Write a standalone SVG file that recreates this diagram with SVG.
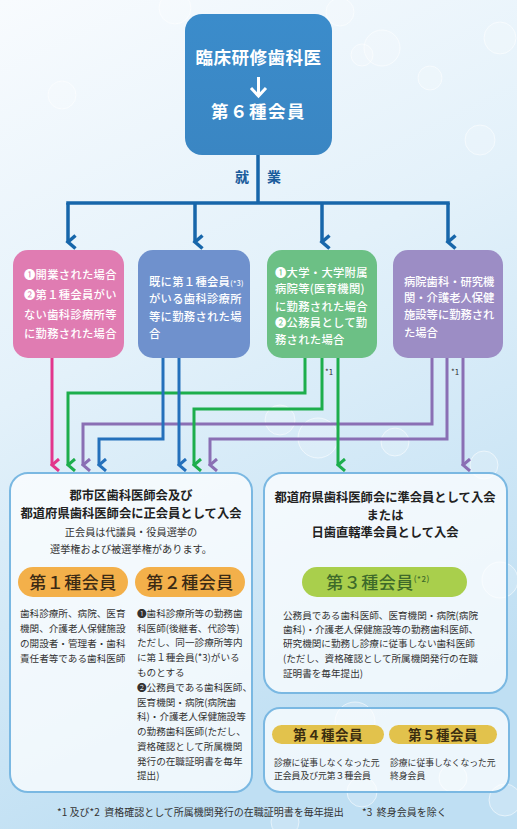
<svg xmlns="http://www.w3.org/2000/svg" width="517" height="829" viewBox="0 0 517 829">
<defs>
<linearGradient id="bg" x1="0" y1="0" x2="0.3" y2="1">
<stop offset="0" stop-color="#f8fbfe"/>
<stop offset="0.45" stop-color="#e3f1fa"/>
<stop offset="1" stop-color="#bfdff3"/>
</linearGradient>
<linearGradient id="topbox" x1="0" y1="0" x2="0" y2="1">
<stop offset="0" stop-color="#3b8ccb"/>
<stop offset="1" stop-color="#3a86c3"/>
</linearGradient>
<marker id="aTop" viewBox="0 0 16 12" refX="8" refY="9" markerWidth="16" markerHeight="12" markerUnits="userSpaceOnUse" orient="auto">
<path d="M1.5,1.5 L8,9 L14.5,1.5" fill="none" stroke="#1766aa" stroke-width="3.5"/>
</marker>
<marker id="aPink" viewBox="0 0 14 10" refX="7" refY="8" markerWidth="14" markerHeight="10" markerUnits="userSpaceOnUse" orient="auto">
<path d="M1,1 L7,8 L13,1" fill="none" stroke="#e2368c" stroke-width="3"/>
</marker>
<marker id="aGreen" viewBox="0 0 14 10" refX="7" refY="8" markerWidth="14" markerHeight="10" markerUnits="userSpaceOnUse" orient="auto">
<path d="M1,1 L7,8 L13,1" fill="none" stroke="#1dae4c" stroke-width="3"/>
</marker>
<marker id="aPurple" viewBox="0 0 14 10" refX="7" refY="8" markerWidth="14" markerHeight="10" markerUnits="userSpaceOnUse" orient="auto">
<path d="M1,1 L7,8 L13,1" fill="none" stroke="#8a6fb4" stroke-width="3"/>
</marker>
<marker id="aBlue" viewBox="0 0 14 10" refX="7" refY="8" markerWidth="14" markerHeight="10" markerUnits="userSpaceOnUse" orient="auto">
<path d="M1,1 L7,8 L13,1" fill="none" stroke="#2470bb" stroke-width="3"/>
</marker>
</defs>
<style>
text { font-family: "Noto Sans CJK JP", "Noto Sans", sans-serif; }
.w { fill: #ffffff; font-size: 11.3px; font-weight: 500; }
.ttl { fill: #222222; font-size: 12.3px; font-weight: 700; text-anchor: middle; }
.sub { fill: #333333; font-size: 10.2px; text-anchor: middle; }
.body { fill: #333333; font-size: 9.6px; }
.small { fill: #333333; font-size: 8.8px; }
.ft { fill: #333333; font-size: 10px; }
.bubble { fill: #ffffff; fill-opacity: 0.18; stroke: #ffffff; stroke-opacity: 0.55; stroke-width: 1; }
.lt { fill: none; stroke-width: 3; }
.top { fill: none; stroke: #1766aa; stroke-width: 3.5; }
.panel { fill: #ffffff; fill-opacity: 0.72; stroke: #7ab8e2; stroke-width: 2; }
</style>
<rect x="0" y="0" width="517" height="829" fill="url(#bg)"/>
<g id="bubbles">
<circle class="bubble" cx="175" cy="8" r="16"/>
<circle class="bubble" cx="340" cy="12" r="14"/>
<circle class="bubble" cx="362" cy="55" r="11"/>
<circle class="bubble" cx="382" cy="48" r="18"/>
<circle class="bubble" cx="430" cy="78" r="12"/>
<circle class="bubble" cx="500" cy="38" r="16"/>
<circle class="bubble" cx="62" cy="95" r="14"/>
<circle class="bubble" cx="480" cy="140" r="15"/>
<circle class="bubble" cx="280" cy="420" r="15"/>
<circle class="bubble" cx="318" cy="438" r="20"/>
<circle class="bubble" cx="395" cy="442" r="14"/>
<circle class="bubble" cx="484" cy="465" r="14"/>
<circle class="bubble" cx="500" cy="580" r="18"/>
<circle class="bubble" cx="355" cy="722" r="20"/>
<circle class="bubble" cx="362" cy="792" r="15"/>
<circle class="bubble" cx="453" cy="778" r="14"/>
<circle class="bubble" cx="505" cy="800" r="16"/>
<circle class="bubble" cx="285" cy="822" r="14"/>
</g>
<g id="connectors">
<line class="top" x1="258" y1="155" x2="258" y2="203"/>
<line class="top" x1="66.25" y1="203" x2="449.75" y2="203"/>
<line class="top" x1="68" y1="203" x2="68" y2="242" marker-end="url(#aTop)"/>
<line class="top" x1="195" y1="203" x2="195" y2="242" marker-end="url(#aTop)"/>
<line class="top" x1="322" y1="203" x2="322" y2="242" marker-end="url(#aTop)"/>
<line class="top" x1="448" y1="203" x2="448" y2="242" marker-end="url(#aTop)"/>
<line x1="52" y1="358" x2="52" y2="465" class="lt" stroke="#e2368c" marker-end="url(#aPink)"/>
<polyline class="lt" stroke="#1dae4c" points="305,358 305,393 68,393 68,465" marker-end="url(#aGreen)"/>
<polyline class="lt" stroke="#8a6fb4" points="432,358 432,424 83,424 83,465" marker-end="url(#aPurple)"/>
<polyline class="lt" stroke="#2470bb" points="163,358 163,439 99,439 99,465" marker-end="url(#aBlue)"/>
<line class="lt" stroke="#2470bb" x1="179" y1="358" x2="179" y2="465" marker-end="url(#aBlue)"/>
<polyline class="lt" stroke="#1dae4c" points="322,358 322,409 194,409 194,465" marker-end="url(#aGreen)"/>
<polyline class="lt" stroke="#8a6fb4" points="447,358 447,439 210,439 210,465" marker-end="url(#aPurple)"/>
<line class="lt" stroke="#1dae4c" x1="338" y1="358" x2="338" y2="465" marker-end="url(#aGreen)"/>
<line class="lt" stroke="#8a6fb4" x1="463" y1="358" x2="463" y2="465" marker-end="url(#aPurple)"/>
<text x="325" y="375" font-size="8" fill="#333">*1</text>
<text x="451" y="375" font-size="8" fill="#333">*1</text>
</g>
<g id="top">
<rect x="185" y="14" width="147" height="141" rx="17" fill="url(#topbox)"/>
<text x="258.5" y="64" fill="#fff" font-size="17.5" font-weight="700" text-anchor="middle" letter-spacing="0.5">臨床研修歯科医</text>
<line x1="258.5" y1="77" x2="258.5" y2="94" stroke="#fff" stroke-width="3"/>
<path d="M251,88 L258.5,96 L266,88" fill="none" stroke="#fff" stroke-width="3"/>
<text x="258.5" y="118" fill="#fff" font-size="17.5" font-weight="700" text-anchor="middle" letter-spacing="1.5">第６種会員</text>
</g>
<g id="shugyo">
<text x="242" y="182" fill="#1a5c9c" font-size="14" font-weight="700" text-anchor="middle">就</text>
<text x="274" y="182" fill="#1a5c9c" font-size="14" font-weight="700" text-anchor="middle">業</text>
</g>
<g id="case1">
<rect x="13" y="250" width="111" height="108" rx="15" fill="#e07cb2"/>
<text class="w" x="24" y="279" letter-spacing="0.3">❶開業された場合</text>
<text class="w" x="24" y="299" letter-spacing="0.3">❷第１種会員がい</text>
<text class="w" x="24" y="319" letter-spacing="0.3">ない歯科診療所等</text>
<text class="w" x="24" y="338" letter-spacing="0.3">に勤務された場合</text>
</g>
<g id="case2">
<rect x="138" y="250" width="112" height="108" rx="15" fill="#6f91cd"/>
<text class="w" x="149" y="286" letter-spacing="0.3">既に第１種会員<tspan font-size="7">(*3)</tspan></text>
<text class="w" x="149" y="303" letter-spacing="0.3">がいる歯科診療所</text>
<text class="w" x="149" y="321" letter-spacing="0.3">等に勤務された場</text>
<text class="w" x="149" y="338" letter-spacing="0.3">合</text>
</g>
<g id="case3">
<rect x="267" y="250" width="110" height="108" rx="15" fill="#6cc085"/>
<text class="w" x="275" y="277" letter-spacing="0.3">❶大学・大学附属</text>
<text class="w" x="275" y="293" letter-spacing="0.3">病院等(医育機関)</text>
<text class="w" x="275" y="311" letter-spacing="0.3">に勤務された場合</text>
<text class="w" x="275" y="327" letter-spacing="0.3">❷公務員として勤</text>
<text class="w" x="275" y="344" letter-spacing="0.3">務された場合</text>
</g>
<g id="case4">
<rect x="393" y="250" width="110" height="108" rx="15" fill="#9c8dc5"/>
<text class="w" x="404" y="286" letter-spacing="0">病院歯科・研究機</text>
<text class="w" x="404" y="302" letter-spacing="0">関・介護老人保健</text>
<text class="w" x="404" y="319" letter-spacing="0">施設等に勤務され</text>
<text class="w" x="404" y="337" letter-spacing="0">た場合</text>
</g>
<g id="regular">
<rect class="panel" x="10" y="473" width="242" height="319" rx="18"/>
<text class="ttl" x="131" y="500">郡市区歯科医師会及び</text>
<text class="ttl" x="131" y="518">都道府県歯科医師会に正会員として入会</text>
<text class="sub" x="131" y="536">正会員は代議員・役員選挙の</text>
<text class="sub" x="131" y="553">選挙権および被選挙権があります。</text>
<rect x="18" y="567" width="110" height="30" rx="15" fill="#f3b04a"/>
<text x="73" y="589" fill="#3b2a14" font-size="17" font-weight="500" text-anchor="middle" letter-spacing="0.5">第１種会員</text>
<rect x="135" y="567" width="110" height="30" rx="15" fill="#f3b04a"/>
<text x="190" y="589" fill="#3b2a14" font-size="17" font-weight="500" text-anchor="middle" letter-spacing="0.5">第２種会員</text>
<text class="body" x="20" y="617">歯科診療所、病院、医育</text>
<text class="body" x="20" y="632">機関、介護老人保健施設</text>
<text class="body" x="20" y="647">の開設者・管理者・歯科</text>
<text class="body" x="20" y="662">責任者等である歯科医師</text>
<text class="body" x="137" y="617">❶歯科診療所等の勤務歯</text>
<text class="body" x="137" y="632">科医師(後継者、代診等)</text>
<text class="body" x="137" y="646">ただし、同一診療所等内</text>
<text class="body" x="137" y="661">に第１種会員(*3)がいる</text>
<text class="body" x="137" y="676">ものとする</text>
<text class="body" x="137" y="691">❷公務員である歯科医師、</text>
<text class="body" x="137" y="706">医育機関・病院(病院歯</text>
<text class="body" x="137" y="720">科)・介護老人保健施設等</text>
<text class="body" x="137" y="735">の勤務歯科医師(ただし、</text>
<text class="body" x="137" y="750">資格確認として所属機関</text>
<text class="body" x="137" y="765">発行の在職証明書を毎年</text>
<text class="body" x="137" y="779">提出)</text>
</g>
<g id="associate">
<rect class="panel" x="264" y="473" width="243" height="220" rx="18"/>
<text class="ttl" x="385" y="502">都道府県歯科医師会に準会員として入会</text>
<text class="ttl" x="385" y="520">または</text>
<text class="ttl" x="385" y="537">日歯直轄準会員として入会</text>
<rect x="302" y="567" width="165" height="30" rx="15" fill="#a9cf4c"/>
<text x="378" y="589" fill="#3d6a2a" font-size="17" font-weight="500" text-anchor="middle" letter-spacing="0.5">第３種会員<tspan font-size="8" dy="-7">(*2)</tspan></text>
<text class="body" x="283" y="619">公務員である歯科医師、医育機関・病院(病院</text>
<text class="body" x="283" y="633">歯科)・介護老人保健施設等の勤務歯科医師、</text>
<text class="body" x="283" y="647">研究機関に勤務し診療に従事しない歯科医師</text>
<text class="body" x="283" y="662">(ただし、資格確認として所属機関発行の在職</text>
<text class="body" x="283" y="677">証明書を毎年提出)</text>
</g>
<g id="others">
<rect class="panel" x="264" y="708" width="245" height="84" rx="16"/>
<rect x="272" y="725" width="112" height="19" rx="9.5" fill="#e2c24c"/>
<text x="328" y="740" fill="#3b2e10" font-size="13.5" font-weight="700" text-anchor="middle" letter-spacing="0.5">第４種会員</text>
<rect x="389" y="725" width="108" height="19" rx="9.5" fill="#e2c24c"/>
<text x="443" y="740" fill="#3b2e10" font-size="13.5" font-weight="700" text-anchor="middle" letter-spacing="0.5">第５種会員</text>
<text class="small" x="274" y="766">診療に従事しなくなった元</text>
<text class="small" x="274" y="779">正会員及び元第３種会員</text>
<text class="small" x="390" y="766">診療に従事しなくなった元</text>
<text class="small" x="390" y="779">終身会員</text>
</g>
<g id="footnote">
<text class="ft" x="57" y="816" xml:space="preserve">*1 及び*2  資格確認として所属機関発行の在職証明書を毎年提出</text>
<text class="ft" x="362" y="816" xml:space="preserve">*3  終身会員を除く</text>
</g>
</svg>
